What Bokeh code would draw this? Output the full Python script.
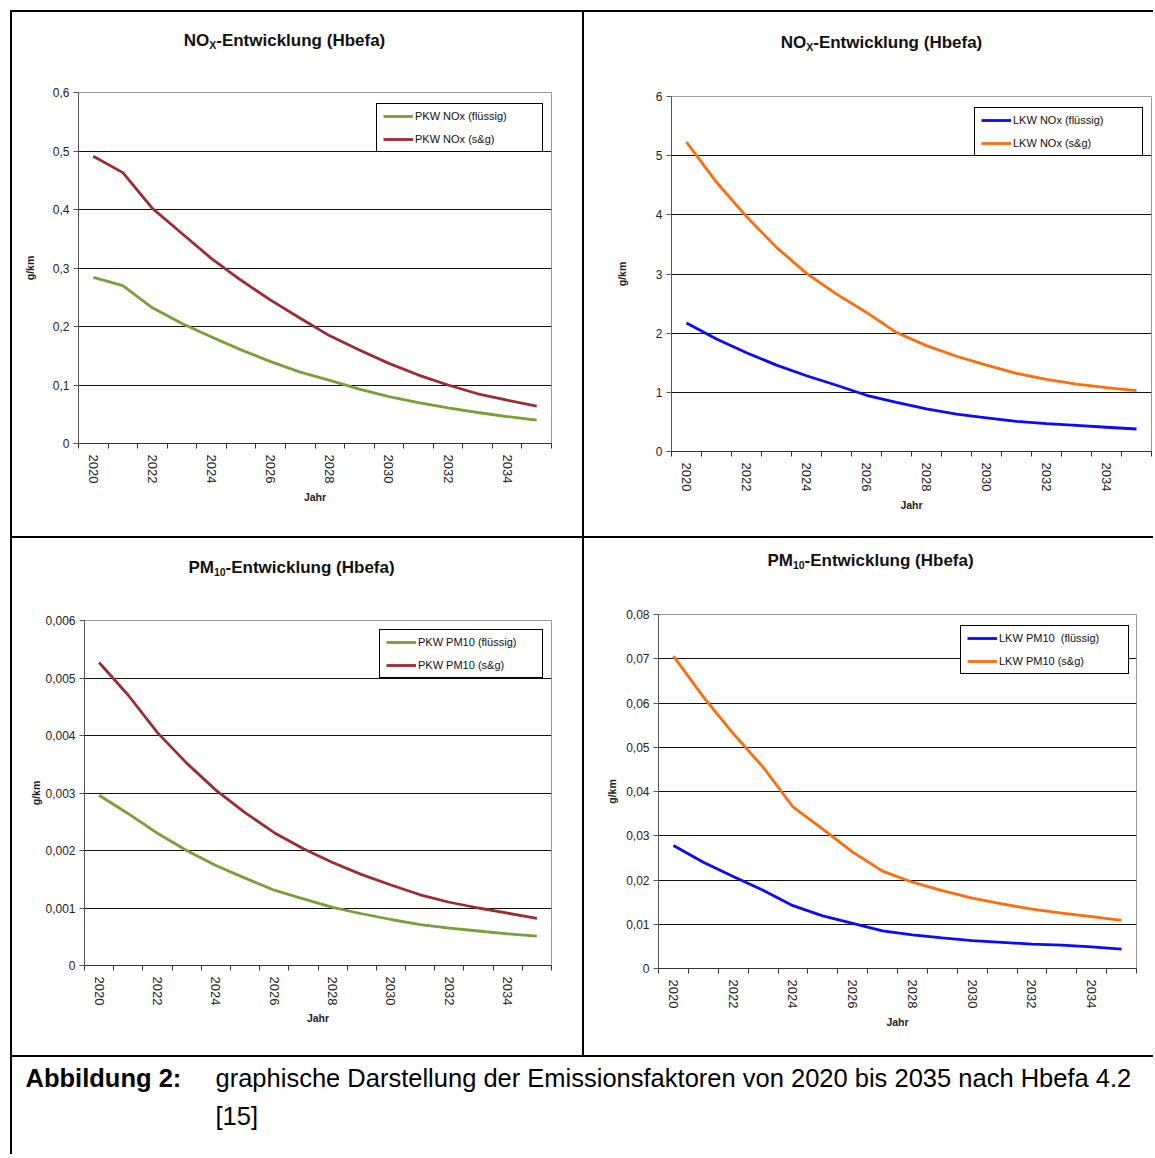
from bokeh.plotting import figure
from bokeh.layouts import column, row
from bokeh.models import FixedTicker, Range1d, Label, Spacer
from bokeh.embed import file_html
from bokeh.resources import INLINE

# ---------------- data ----------------
years = list(range(2020, 2036))
year_tick_labels = ["2020", "2022", "2024", "2026", "2028", "2030", "2032", "2034"]

pkw_nox_fluessig = [0.284, 0.270, 0.232, 0.205, 0.182, 0.160, 0.140, 0.122,
                    0.108, 0.093, 0.080, 0.070, 0.061, 0.053, 0.046, 0.040]
pkw_nox_sg = [0.491, 0.463, 0.402, 0.359, 0.316, 0.279, 0.245, 0.214,
              0.184, 0.160, 0.137, 0.117, 0.100, 0.085, 0.074, 0.064]

lkw_nox_fluessig = [2.17, 1.90, 1.67, 1.46, 1.28, 1.12, 0.95, 0.83,
                    0.72, 0.63, 0.57, 0.51, 0.47, 0.44, 0.41, 0.38]
lkw_nox_sg = [5.23, 4.55, 3.97, 3.45, 3.01, 2.66, 2.35, 2.01,
              1.79, 1.61, 1.46, 1.32, 1.22, 1.14, 1.08, 1.03]

pkw_pm10_fluessig = [0.00296, 0.00264, 0.00230, 0.00200, 0.00174, 0.00152, 0.00131, 0.00116,
                     0.00101, 0.00090, 0.00080, 0.00071, 0.00065, 0.00060, 0.00055, 0.00051]
pkw_pm10_sg = [0.00527, 0.00470, 0.00405, 0.00352, 0.00305, 0.00266, 0.00231, 0.00203,
               0.00179, 0.00158, 0.00140, 0.00123, 0.00110, 0.00100, 0.00091, 0.00082]

lkw_pm10_fluessig = [0.0278, 0.0240, 0.0208, 0.0177, 0.0142, 0.0119, 0.0102, 0.0085,
                     0.0076, 0.0069, 0.0063, 0.0059, 0.0055, 0.0053, 0.0049, 0.0044]
lkw_pm10_sg = [0.0706, 0.0614, 0.0531, 0.0455, 0.0365, 0.0315, 0.0263, 0.0220,
               0.0195, 0.0176, 0.0159, 0.0146, 0.0134, 0.0125, 0.0117, 0.0109]

pkw_nox_yticks = [0, 0.1, 0.2, 0.3, 0.4, 0.5, 0.6]
pkw_nox_ylabels = ["0", "0,1", "0,2", "0,3", "0,4", "0,5", "0,6"]
lkw_nox_yticks = [0, 1, 2, 3, 4, 5, 6]
lkw_nox_ylabels = ["0", "1", "2", "3", "4", "5", "6"]
pkw_pm10_yticks = [0, 0.001, 0.002, 0.003, 0.004, 0.005, 0.006]
pkw_pm10_ylabels = ["0", "0,001", "0,002", "0,003", "0,004", "0,005", "0,006"]
lkw_pm10_yticks = [0, 0.01, 0.02, 0.03, 0.04, 0.05, 0.06, 0.07, 0.08]
lkw_pm10_ylabels = ["0", "0,01", "0,02", "0,03", "0,04", "0,05", "0,06", "0,07", "0,08"]

caption_head = "Abbildung 2:"
caption_line1 = "graphische Darstellung der Emissionsfaktoren von 2020 bis 2035 nach Hbefa 4.2"
caption_line2 = "[15]"

GREEN = "#78a036"
DARKRED = "#9c2c30"
BLUE = "#0a0aff"
ORANGE = "#ff6c0c"
FONT = "Liberation Sans"

# Arial-bold widths (per em) for composing the subscript titles
BOLD_W = {"N": .722, "O": .778, "X": .667, "P": .667, "M": .833, "1": .556, "0": .556,
          "-": .333, "E": .667, "n": .611, "t": .333, "w": .778, "i": .278, "c": .556,
          "k": .556, "l": .278, "u": .611, "g": .611, " ": .278, "(": .333, "H": .722,
          "b": .611, "e": .556, "f": .333, "a": .556, ")": .333}


def text_w(s, size):
    return sum(BOLD_W.get(ch, .6) for ch in s) * size


def pixel_fig(width, height, shadow, ml=0, mr=0):
    # data coordinates == canvas pixels (frame spans ml .. width-mr)
    f = figure(width=width, height=height, output_backend="svg", toolbar_location=None,
               title=None, x_range=Range1d(ml, width - mr), y_range=Range1d(height, 0),
               x_axis_type=None, y_axis_type=None,
               min_border_left=ml, min_border_right=mr, min_border_top=0, min_border_bottom=0,
               border_fill_color=None, background_fill_color=None, outline_line_color=None,
               styles={"background-color": "white", "box-shadow": shadow})
    f.grid.visible = False
    return f


def panel(width, title_h, chart_h, mins, ymax, yticks, ylabels, s1, s2, names, colors,
          leg_pos, leg_w, title_main, title_sub, title_center, ystand, xstand,
          shadow_title, shadow_chart):
    ml, mr, mt, mb = mins
    # ---- title strip ----
    t = pixel_fig(width, title_h, shadow_title, ml, mr)
    rest = "-Entwicklung (Hbefa)"
    big, small = 17, 10.5
    total = text_w(title_main, big) + text_w(title_sub, small) + text_w(rest, big)
    cx, cy = title_center
    xx = cx - total / 2
    for txt, size, dy in [(title_main, big, 0), (title_sub, small, 4), (rest, big, 0)]:
        t.add_layout(Label(x=xx, y=cy + dy, text=txt, text_font=FONT, text_font_style="bold",
                           text_font_size=f"{size}px", text_color="#111111",
                           text_align="left", text_baseline="middle"))
        xx += text_w(txt, size)

    # ---- chart ----
    p = figure(width=width, height=chart_h, output_backend="svg", toolbar_location=None,
               title=None, x_range=Range1d(2019.5, 2035.5), y_range=Range1d(0, ymax),
               min_border_left=ml, min_border_right=mr, min_border_top=mt, min_border_bottom=mb,
               border_fill_color=None, background_fill_color="white",
               outline_line_color="#9a9a9a", outline_line_width=1,
               styles={"background-color": "white", "box-shadow": shadow_chart})

    p.line(years, s1, line_color=colors[0], line_width=2.8, legend_label=names[0])
    p.line(years, s2, line_color=colors[1], line_width=2.8, legend_label=names[1])

    xa = p.xaxis[0]
    xa.ticker = FixedTicker(ticks=[int(v) for v in year_tick_labels],
                            minor_ticks=[2019.5 + i for i in range(17)])
    xa.major_label_overrides = {int(v): v for v in year_tick_labels}
    xa.major_label_orientation = "vertical"
    xa.major_tick_out = 0
    xa.major_tick_in = 0
    xa.minor_tick_out = 5
    xa.minor_tick_in = 0
    xa.major_label_standoff = 6
    xa.major_label_text_font = FONT
    xa.major_label_text_font_size = "13px"
    xa.major_label_text_color = "#222222"
    xa.axis_line_color = "#333333"
    xa.minor_tick_line_color = "#333333"
    xa.axis_label = "Jahr"
    xa.axis_label_text_font = FONT
    xa.axis_label_text_font_style = "bold"
    xa.axis_label_text_font_size = "10.5px"
    xa.axis_label_text_color = "#222222"
    xa.axis_label_standoff = xstand

    ya = p.yaxis[0]
    ya.ticker = FixedTicker(ticks=yticks, minor_ticks=[])
    ya.major_label_overrides = {v: l for v, l in zip(yticks, ylabels)}
    ya.major_tick_out = 5
    ya.major_tick_in = 0
    ya.minor_tick_out = 0
    ya.major_label_standoff = 4
    ya.major_label_text_font = FONT
    ya.major_label_text_font_size = "12px"
    ya.major_label_text_color = "#222222"
    ya.axis_line_color = "#555555"
    ya.major_tick_line_color = "#555555"
    ya.axis_label = "g/km"
    ya.axis_label_text_font = FONT
    ya.axis_label_text_font_style = "bold"
    ya.axis_label_text_font_size = "10.5px"
    ya.axis_label_text_color = "#222222"
    ya.axis_label_standoff = ystand

    p.xgrid.visible = False
    p.ygrid.ticker = FixedTicker(ticks=yticks[1:-1], minor_ticks=[])
    p.ygrid.grid_line_color = "#111111"
    p.ygrid.grid_line_width = 1

    leg = p.legend[0]
    leg.location = leg_pos
    leg.border_line_color = "black"
    leg.border_line_width = 1
    leg.border_line_alpha = 1
    leg.background_fill_color = "white"
    leg.background_fill_alpha = 1
    leg.padding = 6
    leg.spacing = 11
    leg.margin = 0
    leg.glyph_width = 30
    leg.glyph_height = 12
    leg.label_height = 12
    leg.label_standoff = 2
    leg.label_width = leg_w - 12 - 30 - 2
    leg.label_text_font = FONT
    leg.label_text_font_size = "11px"
    leg.label_text_color = "#111111"

    return column(t, p)


# layout starts at page (10, 10) thanks to the spacers
# top-left : PKW NOx  (title strip y 10..60, chart y 60..537, x 10..583)
c1 = panel(573, 50, 477, (68, 32, 32, 94), 0.6, pkw_nox_yticks, pkw_nox_ylabels,
           pkw_nox_fluessig, pkw_nox_sg, ["PKW NOx (flüssig)", "PKW NOx (s&g)"],
           [GREEN, DARKRED], (298, 291), 165, "NO", "X", (274, 30), 14, 5,
           "inset 2px 2px 0 0 #000, inset -1px 0 0 0 #000",
           "inset 2px 0 0 0 #000, inset -1px -1px 0 0 #000")

# top-right : LKW NOx  (x 583..1153)
c2 = panel(570, 50, 477, (88, 2, 36, 86), 6.0, lkw_nox_yticks, lkw_nox_ylabels,
           lkw_nox_fluessig, lkw_nox_sg, ["LKW NOx (flüssig)", "LKW NOx (s&g)"],
           [BLUE, ORANGE], (303, 295), 167, "NO", "X", (298, 32), 25, 5,
           "inset 1px 2px 0 0 #000",
           "inset 1px 0 0 0 #000, inset 0 -1px 0 0 #000")

# bottom-left : PKW PM10 (title y 537..590, chart y 590..1056)
c3 = panel(573, 53, 466, (74, 32, 30, 91), 0.006, pkw_pm10_yticks, pkw_pm10_ylabels,
           pkw_pm10_fluessig, pkw_pm10_sg, ["PKW PM10 (flüssig)", "PKW PM10 (s&g)"],
           [GREEN, DARKRED], (295, 287), 162, "PM", "10", (281, 30), 0, 4,
           "inset 2px 1px 0 0 #000, inset -1px 0 0 0 #000",
           "inset 2px 0 0 0 #000, inset -1px -1px 0 0 #000")

# bottom-right : LKW PM10 (title y 537..585, chart y 585..1056)
c4 = panel(570, 48, 471, (75, 17, 29, 88), 0.08, lkw_pm10_yticks, lkw_pm10_ylabels,
           lkw_pm10_fluessig, lkw_pm10_sg, ["LKW PM10  (flüssig)", "LKW PM10 (s&g)"],
           [BLUE, ORANGE], (302, 294), 167, "PM", "10", (287, 23), 5, 5,
           "inset 1px 1px 0 0 #000",
           "inset 1px 0 0 0 #000, inset 0 -1px 0 0 #000")

# caption (y 1056..1154)
cap = pixel_fig(1143, 98, "inset 2px 1px 0 0 #000")
cap.add_layout(Label(x=15, y=21, text=caption_head, text_font=FONT, text_font_style="bold",
                     text_font_size="25.5px", text_color="black", text_baseline="alphabetic"))
cap.add_layout(Label(x=205, y=21, text=caption_line1, text_font=FONT,
                     text_font_size="25.5px", text_color="black", text_baseline="alphabetic"))
cap.add_layout(Label(x=205, y=59, text=caption_line2, text_font=FONT,
                     text_font_size="25.5px", text_color="black", text_baseline="alphabetic"))

body = column(Spacer(width=10, height=10), row(c1, c2), row(c3, c4), cap)
layout = row(Spacer(width=10, height=10), body)

with open("out.html", "w") as f:
    f.write(file_html(layout, INLINE))
